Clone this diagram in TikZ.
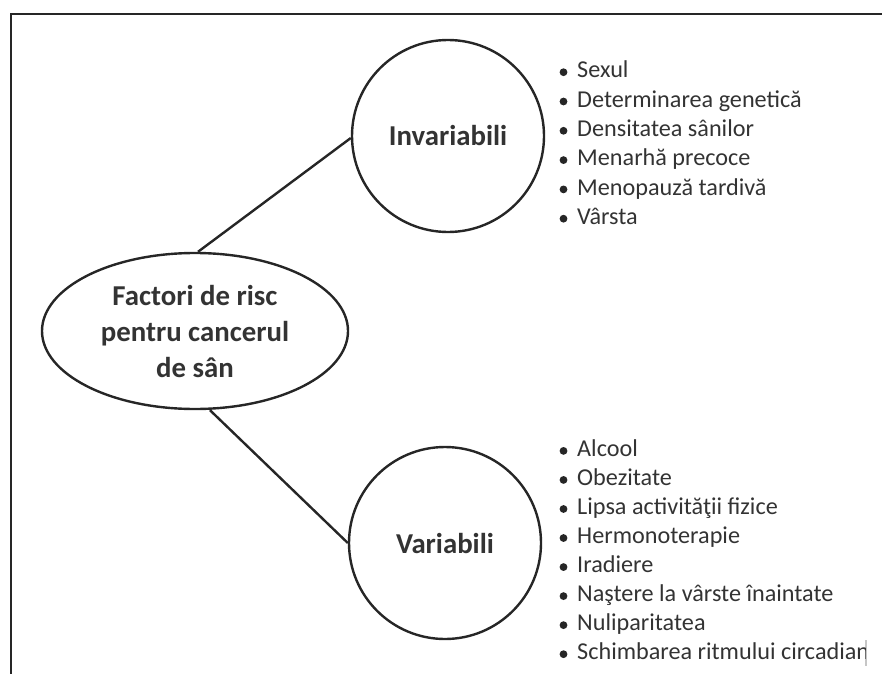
\documentclass[tikz,border=0pt]{standalone}
\usepackage{fontspec}
\setmainfont{Carlito}
\usetikzlibrary{shapes.geometric}
\definecolor{ink}{HTML}{262626}
\definecolor{txt}{HTML}{333333}
\tikzset{
  frameline/.style={draw=ink, line width=2pt},
  conn/.style={draw=ink, line width=2.4pt},
  bubble/.style={circle, draw=ink, line width=2.4pt, minimum size=192pt, inner sep=0pt,
    font=\fontsize{28.8}{36}\selectfont\bfseries, text=txt},
  mainell/.style={ellipse, draw=ink, line width=2.4pt, minimum width=306pt, minimum height=156pt,
    inner sep=0pt, align=center, font=\fontsize{28.8}{36}\selectfont\bfseries, text=txt},
  itemtext/.style={anchor=base west, inner sep=0pt, text=txt, font=\fontsize{24.2}{29}\selectfont},
  bul/.style={fill=ink, draw=none}
}
\begin{document}
\begin{tikzpicture}[x=1pt,y=-1pt]
\useasboundingbox (0,0) rectangle (882,674);
% frame
\coordinate (ftl) at (11,14);
\coordinate (ftr) at (882,14);
\coordinate (fbl) at (11,674);
\draw[frameline] (ftr) -- (ftl) -- (fbl);
\coordinate (rt) at (866,640);
\coordinate (rb) at (866,666);
\draw[gray!45, line width=1.5pt] (rt) -- (rb);

% nodes
\node[mainell] (main) at (195,331) {Factori de risc\\pentru cancerul\\de sân};
\node[bubble] (inv) at (448,136) {Invariabili};
\node[bubble] (var) at (445,543) {Variabili};

\draw[conn] ([xshift=3pt]main.north) -- ([yshift=-2pt]inv.west);
\draw[conn] ([xshift=15pt]main.south) -- ([yshift=0pt]var.west);

% invariable list
\foreach \t [count=\i] in {Sexul, Determinarea genetică, Densitatea sânilor, Menarhă precoce, Menopauză tardivă, Vârsta}{
  \pgfmathsetmacro{\yy}{78+29.3*(\i-1)}
  \fill[bul] (563.5,\yy-5.8) circle (3.9pt);
  \node[itemtext] (a\i) at (577,\yy) {\t};
}
% variable list
\begin{scope}
\clip (540,430) rectangle (865,674);
\foreach \t [count=\i] in {Alcool, Obezitate, Lipsa activităţii fizice, Hermonoterapie, Iradiere, Naştere la vârste înaintate, Nuliparitatea, Schimbarea ritmului circadian}{
  \pgfmathsetmacro{\yy}{456.7+29.04*(\i-1)}
  \fill[bul] (563.5,\yy-5.8) circle (3.9pt);
  \node[itemtext] (b\i) at (577,\yy) {\t};
}
\end{scope}
\end{tikzpicture}
\end{document}
